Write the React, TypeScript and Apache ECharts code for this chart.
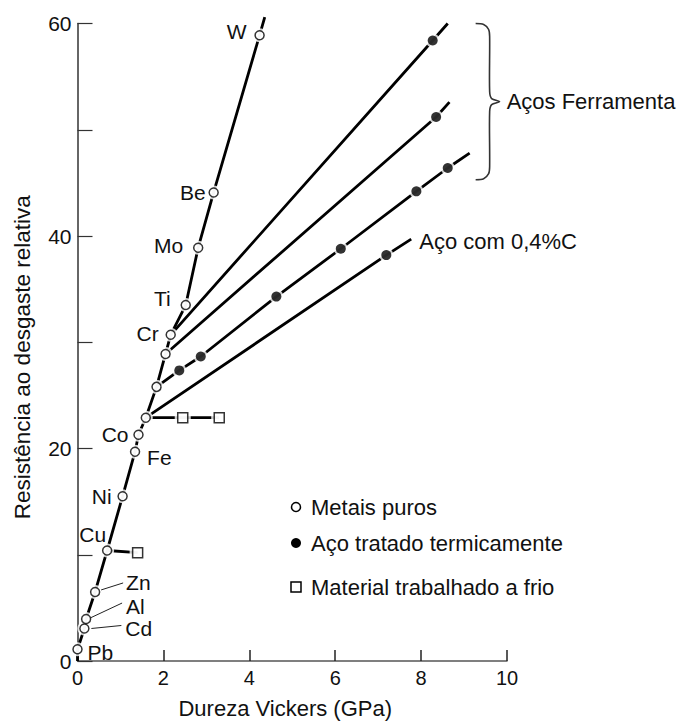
import React, { useEffect, useRef } from "react";
import * as echarts from "echarts";

// ---- data (hardness in GPa, relative wear resistance) ----
const metalNames = ["Pb", "Cd", "Al", "Zn", "Cu", "Ni", "Fe", "Co", "", "", "", "Cr", "Ti", "Mo", "Be", "W"];
const metalHardness = [0.0, 0.16, 0.2, 0.41, 0.69, 1.05, 1.34, 1.42, 1.59, 1.84, 2.05, 2.17, 2.52, 2.81, 3.17, 4.24];
const metalResistance = [1.1, 3.06, 3.95, 6.5, 10.4, 15.5, 19.7, 21.3, 22.9, 25.8, 28.9, 30.7, 33.5, 38.9, 44.1, 58.9];
const metalCurveStart = [0, 0];
const metalCurveEnd = [4.36, 60.6];

// tool steels (origin = index on the metals curve)
const toolSteel1Origin = 11;
const toolSteel1Hardness = [8.27];
const toolSteel1Resistance = [58.4];
const toolSteel1End = [8.62, 60.0];

const toolSteel2Origin = 10;
const toolSteel2Hardness = [8.35];
const toolSteel2Resistance = [51.2];
const toolSteel2End = [8.66, 52.6];

const toolSteel3Origin = 9;
const toolSteel3Hardness = [2.37, 2.87, 4.63, 6.13, 7.89, 8.62];
const toolSteel3Resistance = [27.35, 28.66, 34.3, 38.8, 44.2, 46.4];
const toolSteel3End = [9.13, 47.8];

const steel04Origin = 8;
const steel04Hardness = [7.19];
const steel04Resistance = [38.2];
const steel04End = [7.77, 39.7];

const coldCuOrigin = 4;
const coldCuHardness = [1.4];
const coldCuResistance = [10.2];

const coldOrigin = 8;
const coldHardness = [2.45, 3.3];
const coldResistance = [22.9, 22.9];

const yTickLabels = [0, 20, 40, 60];
const xTickLabels = [0, 2, 4, 6, 8, 10];

const legendLabels = ["Metais puros", "Aço tratado termicamente", "Material trabalhado a frio"];
const toolSteelLabel = "Aços Ferramenta";
const steel04Label = "Aço com 0,4%C";
const xTitle = "Dureza Vickers (GPa)";
const yTitle = "Resistência ao desgaste relativa";

// label placement (pixel offsets from marker) — styling only
const labelPlace: Record<string, [number, number, string]> = {
  W: [-13, -4, "right"],
  Be: [-8, 0, "right"],
  Mo: [-15, -2, "right"],
  Ti: [-15, -7, "right"],
  Cr: [-12, -1, "right"],
  Co: [-10, 0, "right"],
  Fe: [12, 6, "left"],
  Ni: [-11, 0, "right"],
  Cu: [-1, -16, "right"],
  Zn: [31, -9, "left"],
  Al: [40, -13, "left"],
  Cd: [41, 0, "left"],
  Pb: [10, 3, "left"],
};
const leaders: Record<string, [number, number, number, number]> = {
  Zn: [6, -2, 28, -9],
  Al: [4, -1, 36, -16],
  Cd: [7, 0, 37, -3],
};

const FONT = "'Liberation Sans', Arial, Helvetica, sans-serif";

function zip(xs: number[], ys: number[]) {
  return xs.map((x, i) => [x, ys[i]]);
}
const metalPts = zip(metalHardness, metalResistance);

function branch(origin: number, xs: number[], ys: number[], end?: number[]) {
  const pts = [metalPts[origin], ...zip(xs, ys)];
  if (end) pts.push(end);
  return pts;
}

export default function App() {
  const ref = useRef<HTMLDivElement>(null);
  useEffect(() => {
    if (!ref.current) return;
    const chart = echarts.init(ref.current, null, { renderer: "svg" });

    const lineStyle = { color: "#000", width: 2.8 };
    const lineSeries = (data: number[][]) => ({
      type: "line",
      data,
      showSymbol: false,
      symbol: "none",
      lineStyle,
      clip: false,
      z: 2,
      silent: true,
    });

    const filledPts = [
      ...zip(toolSteel1Hardness, toolSteel1Resistance),
      ...zip(toolSteel2Hardness, toolSteel2Resistance),
      ...zip(toolSteel3Hardness, toolSteel3Resistance),
      ...zip(steel04Hardness, steel04Resistance),
    ];
    const squarePts = [...zip(coldCuHardness, coldCuResistance), ...zip(coldHardness, coldResistance)];

    const option: any = {
      animation: false,
      grid: { left: 77.5, right: 181, top: 23.5, bottom: 59, containLabel: false },
      xAxis: {
        type: "value",
        min: 0,
        max: 10,
        interval: 2,
        name: xTitle,
        nameLocation: "middle",
        nameGap: 36,
        nameTextStyle: { fontFamily: FONT, fontSize: 22, color: "#111", padding: [0, 14, 0, 0] },
        axisLine: { show: true, lineStyle: { color: "#555", width: 1.5 } },
        axisTick: { show: true, inside: true, length: 11, lineStyle: { color: "#222", width: 1.5 } },
        axisLabel: {
          fontFamily: FONT,
          fontSize: 20,
          color: "#111",
          margin: 7,
          formatter: (v: number) => (xTickLabels.includes(v) ? String(v) : ""),
        },
        splitLine: { show: false },
      },
      yAxis: {
        type: "value",
        min: 0,
        max: 60,
        interval: 10,
        name: yTitle,
        nameLocation: "middle",
        nameGap: 44,
        nameTextStyle: { fontFamily: FONT, fontSize: 22.5, color: "#111", padding: [0, 30, 0, 0] },
        axisLine: { show: true, lineStyle: { color: "#333", width: 1.5 } },
        axisTick: { show: true, inside: true, length: 15, lineStyle: { color: "#333", width: 1.2 } },
        axisLabel: {
          fontFamily: FONT,
          fontSize: 21,
          color: "#111",
          margin: 6,
          formatter: (v: number) => (yTickLabels.includes(v) ? String(v) : ""),
        },
        splitLine: { show: false },
      },
      series: [
        lineSeries([metalCurveStart, ...metalPts, metalCurveEnd]),
        lineSeries(branch(toolSteel1Origin, toolSteel1Hardness, toolSteel1Resistance, toolSteel1End)),
        lineSeries(branch(toolSteel2Origin, toolSteel2Hardness, toolSteel2Resistance, toolSteel2End)),
        lineSeries(branch(toolSteel3Origin, toolSteel3Hardness, toolSteel3Resistance, toolSteel3End)),
        lineSeries(branch(steel04Origin, steel04Hardness, steel04Resistance, steel04End)),
        lineSeries(branch(coldCuOrigin, coldCuHardness, coldCuResistance)),
        lineSeries(branch(coldOrigin, coldHardness, coldResistance)),
        {
          type: "scatter",
          data: [...metalPts, ...filledPts],
          symbol: "circle",
          symbolSize: 14,
          itemStyle: { color: "#fff" },
          z: 3,
          silent: true,
        },
        {
          type: "scatter",
          data: squarePts,
          symbol: "rect",
          symbolSize: 16,
          itemStyle: { color: "#fff" },
          z: 3,
          silent: true,
        },
        {
          type: "scatter",
          name: legendLabels[0],
          data: metalPts,
          symbol: "circle",
          symbolSize: 9,
          itemStyle: { color: "#fff", borderColor: "#000", borderWidth: 1.5 },
          z: 4,
        },
        {
          type: "scatter",
          name: legendLabels[1],
          data: filledPts,
          symbol: "circle",
          symbolSize: 10,
          itemStyle: { color: "#000" },
          z: 4,
        },
        {
          type: "scatter",
          name: legendLabels[2],
          data: squarePts,
          symbol: "rect",
          symbolSize: 10,
          itemStyle: { color: "#fff", borderColor: "#000", borderWidth: 1.5 },
          z: 4,
        },
      ],
    };
    chart.setOption(option);

    const px = (p: number[]) => chart.convertToPixel({ gridIndex: 0 }, p) as number[];
    const g: any[] = [];
    metalNames.forEach((n, i) => {
      if (!n) return;
      const [x, y] = px(metalPts[i]);
      const pl = labelPlace[n];
      g.push({
        type: "text",
        x: x + pl[0],
        y: y + pl[1],
        style: { text: n, fontFamily: FONT, fontSize: 21, fill: "#111", align: pl[2], verticalAlign: "middle" },
        z: 10,
      });
      const ld = leaders[n];
      if (ld) {
        g.push({
          type: "line",
          shape: { x1: x + ld[0], y1: y + ld[1], x2: x + ld[2], y2: y + ld[3] },
          style: { stroke: "#222", lineWidth: 1 },
          z: 10,
        });
      }
    });

    // brace for tool steels
    const braceTop = px([9.27, 60]);
    const braceBot = px([9.27, 45.3]);
    const h = braceBot[1] - braceTop[1];
    const mid = h / 2;
    g.push({
      type: "polyline",
      shape: {
        points: [
          [braceTop[0], braceTop[1]],
          [braceTop[0] + 8, braceTop[1] + 1],
          [braceTop[0] + 13, braceTop[1] + 6],
          [braceTop[0] + 14, braceTop[1] + 13],
          [braceTop[0] + 14, braceTop[1] + mid - 10],
          [braceTop[0] + 16, braceTop[1] + mid - 3],
          [braceTop[0] + 24, braceTop[1] + mid],
          [braceTop[0] + 16, braceTop[1] + mid + 3],
          [braceTop[0] + 14, braceTop[1] + mid + 10],
          [braceTop[0] + 14, braceBot[1] - 13],
          [braceTop[0] + 13, braceBot[1] - 6],
          [braceTop[0] + 8, braceBot[1] - 1],
          [braceTop[0], braceBot[1]],
        ],
        smooth: 0.3,
      },
      style: { stroke: "#333", lineWidth: 1.6, fill: "none" },
      z: 10,
    });
    g.push({
      type: "text",
      x: braceTop[0] + 31,
      y: braceTop[1] + mid,
      style: { text: toolSteelLabel, fontFamily: FONT, fontSize: 22, fill: "#111", verticalAlign: "middle" },
      z: 10,
    });
    const s04 = px(steel04End);
    g.push({
      type: "text",
      x: s04[0] + 8,
      y: s04[1] + 2,
      style: { text: steel04Label, fontFamily: FONT, fontSize: 22, fill: "#111", verticalAlign: "middle" },
      z: 10,
    });

    // legend
    const lx = 296;
    const ly = [507, 543, 587];
    g.push({ type: "circle", shape: { cx: lx, cy: ly[0], r: 4.5 }, style: { fill: "#fff", stroke: "#000", lineWidth: 1.5 }, z: 10 });
    g.push({ type: "circle", shape: { cx: lx, cy: ly[1], r: 5 }, style: { fill: "#000" }, z: 10 });
    g.push({ type: "rect", shape: { x: lx - 5, y: ly[2] - 5, width: 10, height: 10 }, style: { fill: "#fff", stroke: "#000", lineWidth: 1.5 }, z: 10 });
    legendLabels.forEach((t, i) => {
      g.push({
        type: "text",
        x: lx + 15,
        y: ly[i],
        style: { text: t, fontFamily: FONT, fontSize: 22, fill: "#111", verticalAlign: "middle" },
        z: 10,
      });
    });

    chart.setOption({ graphic: g });
    return () => chart.dispose();
  }, []);

  return <div ref={ref} style={{ position: "absolute", left: 0, top: 0, width: 688, height: 724, background: "#fff" }} />;
}
